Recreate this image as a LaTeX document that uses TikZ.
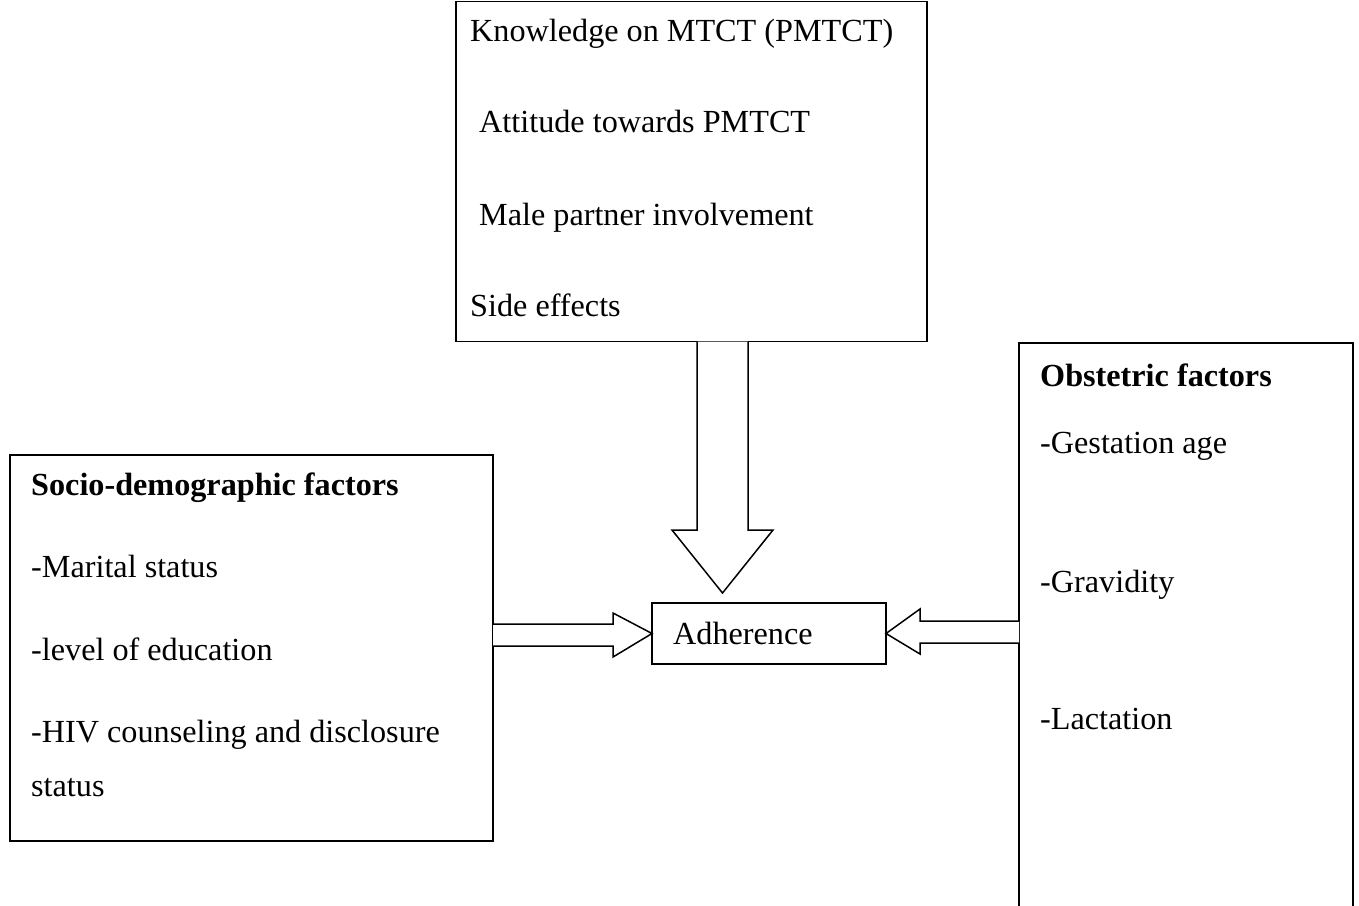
\documentclass[tikz,border=0pt]{standalone}
\usepackage{fontspec}
\setmainfont{Liberation Serif}
\usetikzlibrary{calc}
\begin{document}
\begin{tikzpicture}[x=1pt,y=-1pt,
  box/.style={draw=black,line width=1.8pt,rectangle,inner sep=0pt,outer sep=0pt,anchor=north west},
  txt/.style={anchor=base west,inner sep=0pt,font=\fontsize{32.2}{38}\selectfont},
  btxt/.style={txt,font=\fontsize{32.2}{38}\selectfont\bfseries},
  blockarrow/.style={draw=black,line width=1.5pt,fill=white,line join=miter}]
\useasboundingbox (0,0) rectangle (1359,905);
% boxes
\node[box,minimum width=471pt,minimum height=340pt] (top) at (456,1.5) {};
\node[box,minimum width=483pt,minimum height=386pt] (left) at (10,455) {};
\node[box,minimum width=234pt,minimum height=61pt] (adh) at (652,603) {};
% right box (bottom cut off by page edge)
\coordinate (rtl) at (1019,343);
\coordinate (rtr) at (1353,343);
\coordinate (rbl) at (1019,906);
\coordinate (rbr) at (1353,906);
\draw[line width=1.8pt] (rbl) -- (rtl) -- (rtr) -- (rbr);
% texts
\node[txt] (t1) at (470,41) {Knowledge on MTCT (PMTCT)};
\node[txt] (t2) at (479,132) {Attitude towards PMTCT};
\node[txt] (t3) at (479,225) {Male partner involvement};
\node[txt] (t4) at (470,316) {Side effects};
\node[btxt] (l1) at (31,495) {Socio-demographic factors};
\node[txt] (l2) at (31,577) {-Marital status};
\node[txt] (l3) at (31,660) {-level of education};
\node[txt] (l4) at (31,742) {-HIV counseling and disclosure};
\node[txt] (l5) at (31,796) {status};
\node[btxt] (r1) at (1040,386) {Obstetric factors};
\node[txt] (r2) at (1040,453) {-Gestation age};
\node[txt] (r3) at (1040,592) {-Gravidity};
\node[txt] (r4) at (1040,729) {-Lactation};
\node[txt] (a1) at (673,644) {Adherence};
% down arrow from top box to adherence
\coordinate (dtip) at ($(adh.north -| 722.5,0)+(0,-10)$);
\draw[blockarrow] (top.south -| 697,0) -- (697,530) -- (672,530) -- (dtip)
  -- (773,530) -- (748,530) -- (top.south -| 748,0);
% left arrow
\draw[blockarrow] (left.east |- 0,624) -- (613,624) -- (613,613) -- (adh.west)
  -- (613,657) -- (613,646) -- (left.east |- 0,646);
% right arrow
\draw[blockarrow] (rtl |- 0,621) -- (920,621) -- (920,609) -- (adh.east)
  -- (920,654) -- (920,643) -- (rtl |- 0,643);
\end{tikzpicture}
\end{document}
